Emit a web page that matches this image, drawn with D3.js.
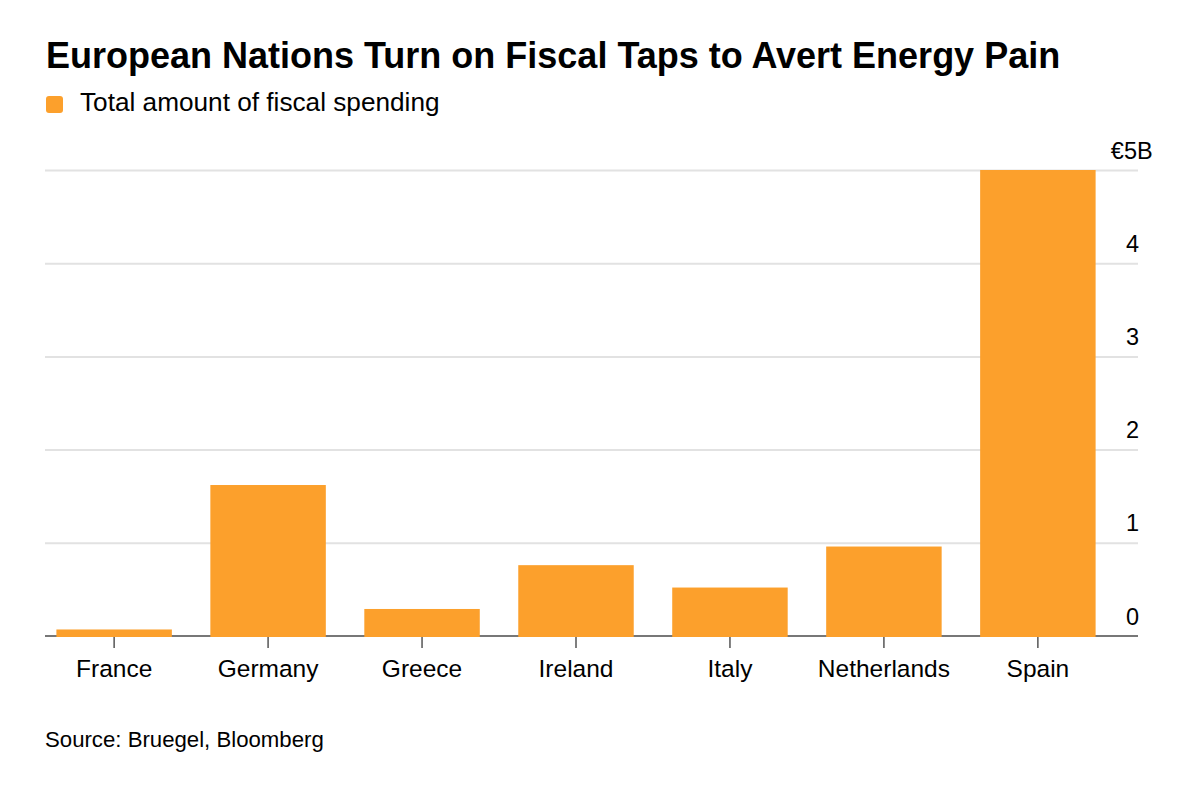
<!DOCTYPE html>
<html>
<head>
<meta charset="utf-8">
<script src="https://cdn.jsdelivr.net/npm/d3@7"></script>
<style>
  body { margin: 0; background: #fff; }
  svg text { font-family: "Liberation Sans", Arial, sans-serif; }
</style>
</head>
<body>
<div id="chart"></div>
<script>
// data (billions of euros)
const countries = ["France", "Germany", "Greece", "Ireland", "Italy", "Netherlands", "Spain"];
const spending = [0.07, 1.62, 0.29, 0.76, 0.52, 0.96, 5.0];
const yTicks = [0, 1, 2, 3, 4, 5];

const title = "European Nations Turn on Fiscal Taps to Avert Energy Pain";
const seriesName = "Total amount of fiscal spending";
const source = "Source: Bruegel, Bloomberg";

const width = 1200;
const height = 790;
const orange = "#fca02c";

const plot = {left: 45, right: 1138, top: 170, bottom: 636};

const data = countries.map((name, i) => ({name, value: spending[i]}));

const svg = d3.select("#chart").append("svg")
    .attr("width", width)
    .attr("height", height)
    .attr("viewBox", [0, 0, width, height]);

const x = d3.scaleBand()
    .domain(countries)
    .range([41, 1111])
    .paddingInner(0.25)
    .paddingOuter(0.1);

const y = d3.scaleLinear()
    .domain([0, 5])
    .range([plot.bottom, plot.top]);

// header
svg.append("text")
    .attr("x", 46)
    .attr("y", 68)
    .attr("font-size", 36)
    .attr("font-weight", "bold")
    .attr("fill", "#000")
    .text(title);

svg.append("rect")
    .attr("x", 46)
    .attr("y", 96)
    .attr("width", 17)
    .attr("height", 17)
    .attr("rx", 3)
    .attr("fill", orange);

svg.append("text")
    .attr("x", 80)
    .attr("y", 111)
    .attr("font-size", 26.2)
    .attr("fill", "#000")
    .text(seriesName);

// gridlines
svg.append("g")
    .attr("transform", `translate(${plot.left},0)`)
    .call(d3.axisRight(y).tickValues(yTicks.slice(1)).tickSize(plot.right - plot.left).tickFormat(""))
    .call(g => g.select(".domain").remove())
    .call(g => g.selectAll(".tick line").attr("stroke", "#e2e2e2").attr("stroke-width", 2));

// y labels, sitting just above each line
const yAxis = svg.append("g")
    .attr("transform", `translate(${plot.right + 1},0)`)
    .call(d3.axisLeft(y).tickValues(yTicks).tickSize(0).tickPadding(0)
      .tickFormat(d => d === 5 ? "€5B" : d))
    .call(g => g.select(".domain").remove())
    .call(g => g.selectAll(".tick text")
        .attr("dy", null)
        .attr("y", -12)
        .attr("font-size", 23.5)
        .attr("font-family", null)
        .attr("fill", "#000"));

// let the "B" hang past the digit column
const topLabel = yAxis.selectAll(".tick text").filter(d => d === 5);
const probe = svg.append("text").attr("font-size", 23.5).text("B");
topLabel.attr("x", probe.node().getComputedTextLength() - 2);
probe.remove();

// x axis
svg.append("line")
    .attr("x1", plot.left)
    .attr("x2", plot.right)
    .attr("y1", plot.bottom)
    .attr("y2", plot.bottom)
    .attr("stroke", "#777")
    .attr("stroke-width", 2);

svg.append("g")
    .attr("transform", `translate(0,${plot.bottom})`)
    .call(d3.axisBottom(x).tickSize(12).tickSizeOuter(0).tickPadding(10))
    .call(g => g.select(".domain").remove())
    .call(g => g.selectAll(".tick line").attr("stroke", "#555").attr("stroke-width", 1.5))
    .call(g => g.selectAll(".tick text")
        .attr("font-size", 24.5)
        .attr("font-family", null)
        .attr("dy", null)
        .attr("y", 41)
        .attr("fill", "#000"));

// bars
svg.append("g")
    .attr("fill", orange)
  .selectAll("rect")
  .data(data)
  .join("rect")
    .attr("x", d => x(d.name))
    .attr("y", d => y(d.value))
    .attr("width", x.bandwidth())
    .attr("height", d => y(0) - y(d.value) + 1);

svg.append("text")
    .attr("x", 45)
    .attr("y", 747)
    .attr("font-size", 22.2)
    .attr("fill", "#000")
    .text(source);
</script>
</body>
</html>
